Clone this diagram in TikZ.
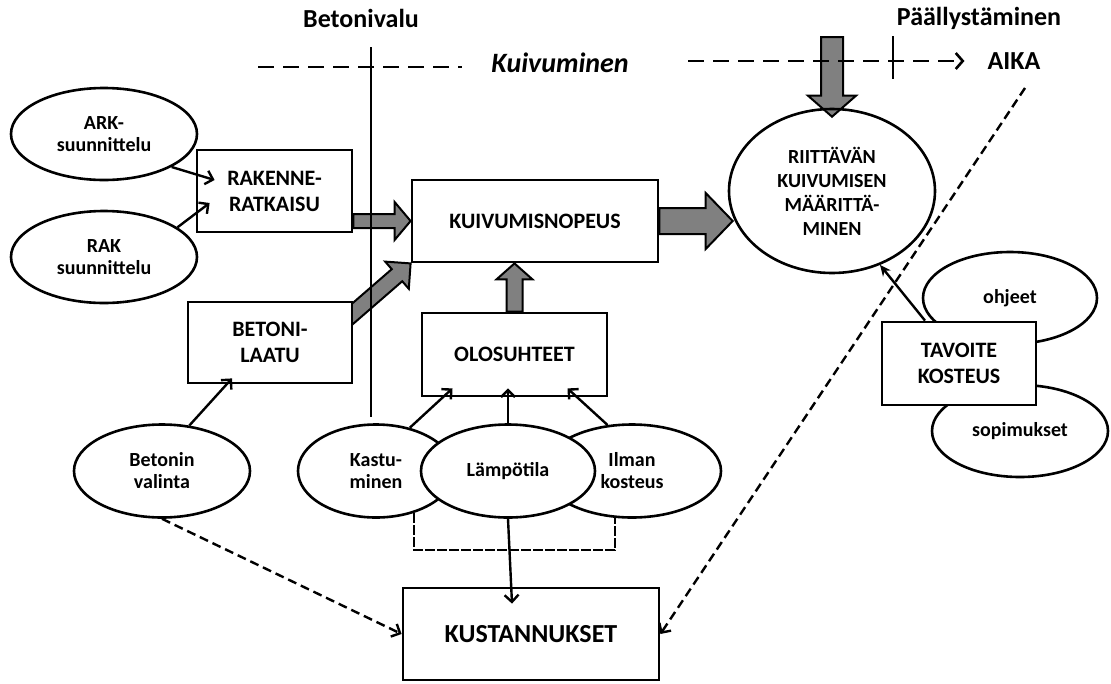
\documentclass[tikz,border=0pt]{standalone}
\usepackage{fontspec}
\setmainfont{Carlito}
\usetikzlibrary{positioning, arrows.meta, shapes.geometric, calc}
\definecolor{arrgray}{RGB}{128,128,128}
\pgfdeclarelayer{bg}
\pgfsetlayers{bg,main}
% wide grey arrow: start, end, half shaft, half head, head length
\newcommand{\blockarrow}[5]{%
  \draw[blkarrow] ($(#1)!#3!90:(#2)$)
    -- ($(#2)!#5!(#1)!#3!-90:(#1)$)
    -- ($(#2)!#5!(#1)!#4!-90:(#1)$)
    -- (#2)
    -- ($(#2)!#5!(#1)!#4!90:(#1)$)
    -- ($(#2)!#5!(#1)!#3!90:(#1)$)
    -- ($(#1)!#3!-90:(#2)$) -- cycle;}

\begin{document}
\begin{tikzpicture}[x=1pt,y=1pt,yscale=-1,
  boxnode/.style={draw, line width=2.8pt, fill=white, inner sep=0pt, align=center, font=\bfseries\fontsize{22}{26}\selectfont},
  ovalnode/.style={draw, ellipse, line width=2.6pt, fill=white, inner sep=0pt, align=center, font=\bfseries\fontsize{20}{22}\selectfont},
  toptext/.style={inner sep=0pt, font=\bfseries\fontsize{26}{30}\selectfont},
  flow/.style={line width=2.4pt, -{Straight Barb[length=7pt,width=14pt]}},
  dashflow/.style={line width=2.4pt, dash pattern=on 9pt off 5pt, -{Straight Barb[length=7pt,width=14pt]}},
  topdash/.style={line width=2.6pt, dash pattern=on 16pt off 9pt},
  brkdash/.style={line width=2.4pt, dash pattern=on 10pt off 2pt},
  blkarrow/.style={draw, line width=2pt, fill=arrgray, line join=miter}]
\useasboundingbox (0,0) rectangle (1111,683);

% Text Node
\draw (361,18) node [toptext] (tbeton) {Betonivalu};
% Text Node
\draw (979,18) node [toptext] (tpaal) {Päällystäminen};
% Text Node
\draw (1014,61) node [toptext] (taika) {AIKA};
% Text Node
\draw (560,63) node [toptext, font=\bfseries\itshape\fontsize{28}{32}\selectfont] (tkuiv) {Kuivuminen};

\draw (104,134) node [ovalnode, minimum width=186pt, minimum height=92pt] (ark) {ARK-\\suunnittelu};
\draw (104,257) node [ovalnode, minimum width=186pt, minimum height=92pt] (rak) {RAK\\suunnittelu};
\draw (274.5,191) node [boxnode, minimum width=155pt, minimum height=82pt] (ratk) {RAKENNE-\\RATKAISU};
\draw (535,221) node [boxnode, minimum width=246pt, minimum height=82pt] (kuiv) {KUIVUMISNOPEUS};
\draw (270,342.5) node [boxnode, minimum width=164pt, minimum height=81pt] (beton) {BETONI-\\LAATU};
\draw (514.5,354.5) node [boxnode, minimum width=185pt, minimum height=83pt] (olos) {OLOSUHTEET};
\draw (162,471) node [ovalnode, minimum width=176pt, minimum height=93pt] (bval) {Betonin\\valinta};
\draw (376,471) node [ovalnode, minimum width=156pt, minimum height=93pt] (kast) {Kastu-\\minen};
\draw (632,471) node [ovalnode, minimum width=178pt, minimum height=93pt] (ilma) {Ilman\\kosteus};
\draw (508,471) node [ovalnode, minimum width=174pt, minimum height=93pt] (lamp) {Lämpötila};
\draw (531,634) node [boxnode, minimum width=256pt, minimum height=92pt, font=\bfseries\fontsize{26}{30}\selectfont] (kust) {KUSTANNUKSET};
\draw (832,191) node [ovalnode, fill=none, minimum width=206pt, minimum height=164pt, font=\bfseries\fontsize{20}{24}\selectfont] (riit) {RIITTÄVÄN\\KUIVUMISEN\\MÄÄRITTÄ-\\MINEN};
\draw (1010,298) node [ovalnode, minimum width=174pt, minimum height=92pt] (ohje) {ohjeet};
\draw (1020,431) node [ovalnode, minimum width=176pt, minimum height=92pt] (sopi) {sopimukset};
\draw (959,363.5) node [boxnode, minimum width=154pt, minimum height=83pt] (tavo) {TAVOITE\\KOSTEUS};

% time axis
\draw [line width=2.4pt] (371,47) -- (371,417);
\draw [line width=2.4pt] (893,36) -- (893,79);
\coordinate (tl1) at (258,67);
\coordinate (tl2) at (462,67);
\coordinate (tr1) at (688,61);
\draw [topdash] (tl1) -- (tl2);
\draw [topdash, -{Straight Barb[length=7pt,width=16pt]}, shorten >=23pt] (tr1) -- (taika.west);

% grey arrows
\coordinate (a1) at (ratk.east |- kuiv.west);
\coordinate (a2) at ($(kuiv.east -| riit.west)+(5,0)$);
\coordinate (a3) at (olos.north |- kuiv.south);
\coordinate (a4) at ($(beton.north east)+(-11,22)$);
\coordinate (a5s) at (832,37);
\coordinate (a5) at ($(riit.north)+(0,9)$);
\begin{pgfonlayer}{bg}
\blockarrow{a1}{kuiv.west}{7pt}{19pt}{16pt}
\blockarrow{kuiv.east}{a2}{13pt}{28pt}{27pt}
\blockarrow{olos.north}{a3}{8pt}{18pt}{16pt}
\blockarrow{a4}{kuiv.south west}{8pt}{18pt}{18pt}
\blockarrow{a5s}{a5}{11pt}{24pt}{21pt}
\end{pgfonlayer}

% thin arrows
\draw [flow] (ark.-26) -- ($(ratk.west)+(19,-11)$);
\draw [flow] (rak.22) -- ($(ratk.west)+(14,12)$);
\draw [flow] (bval.59) -- ($(beton.south)+(-38,-6)$);
\draw [flow] (kast.52) -- ($(olos.south)+(-62,-9)$);
\draw [flow] (lamp.north) -- ($(lamp.north |- olos.south)+(0,-9)$);
\draw [flow] (ilma.118) -- ($(olos.south)+(53,-9)$);
\draw [line width=2.4pt, -{Stealth[length=11pt,width=10pt]}] ($(tavo.north)+(-34,0)$) -- (riit.-57);

% costs
\draw [brkdash] (kast.312) |- ($(lamp.south)+(0,31)$) -| (ilma.250);
\draw [flow] (lamp.south) -- ($(lamp.south |- kust.north)+(4,17)$);
\draw [dashflow] (bval.south) -- (kust.west);
\coordinate (dtop) at (1025,88);
\draw [dashflow] (dtop) -- (kust.east);

\end{tikzpicture}
\end{document}
